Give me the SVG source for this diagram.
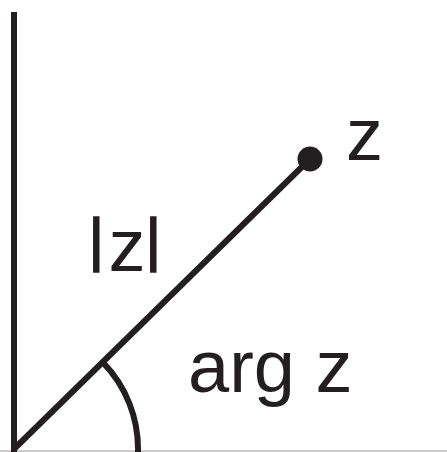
<svg xmlns="http://www.w3.org/2000/svg" width="447" height="452" viewBox="0 0 447 452">
<style>
.ln{stroke:#231f20;stroke-width:6;fill:none}
.lb{font-family:"Liberation Sans",Arial,sans-serif;font-size:74px;fill:#231f20}
.bar{font-size:60px;stroke:#231f20;stroke-width:1.6}
</style>
<rect width="447" height="452" fill="#fff"/>
<g id="axes">
<line x1="0" y1="451" x2="447" y2="451" stroke="#bbbbbb" stroke-width="1.5"/>
<line class="ln" x1="14" y1="12" x2="14" y2="452"/>
</g>
<g id="connectors">
<line class="ln" x1="14" y1="449" x2="310" y2="159"/>
<path id="angle" class="ln" d="M102.6 362.2 A124 124 0 0 1 138 452"/>
</g>
<g id="point-z">
<circle cx="310" cy="159" r="12.5" fill="#231f20"/>
<text class="lb" x="346" y="160">z</text>
</g>
<g id="modulus">
<text class="lb" y="271"><tspan class="bar" x="88.5" y="260">|</tspan><tspan x="108.5" y="271">z</tspan><tspan class="bar" x="145.5" y="260">|</tspan></text>
</g>
<g id="argument">
<text class="lb" x="188" y="392">arg z</text>
</g>
</svg>
